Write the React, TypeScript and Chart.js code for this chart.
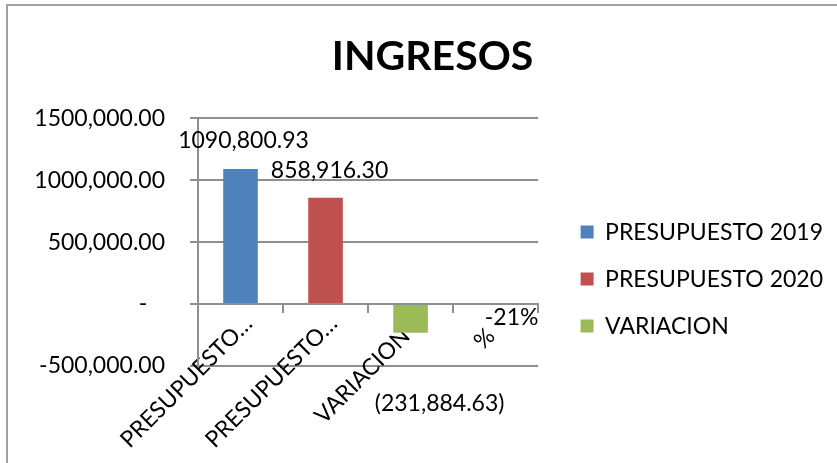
import React, { useEffect, useRef } from "react";
import { Chart, registerables } from "chart.js";

Chart.register(...registerables);

const categories = ["PRESUPUESTO 2019", "PRESUPUESTO 2020", "VARIACION", "%"];
const seriesNames = ["PRESUPUESTO 2019", "PRESUPUESTO 2020", "VARIACION", "%"];
const presupuesto2019 = [1090800.93, null, null, null];
const presupuesto2020 = [null, 858916.3, null, null];
const variacion = [null, null, -231884.63, null];
const porcentaje = [null, null, null, -0.21];
const yTicks = [-500000, 0, 500000, 1000000, 1500000];

const colors = ["#4F81BD", "#C0504D", "#9BBB59", "rgba(0,0,0,0)"];
const FONT = "Lato";
const labelOffsets = [
  [3, -28],
  [4, -27],
  [29, 71],
  [16, 14],
];
// trailing spaces that push short rotated category labels down-left (layout only)
const tickTrail = [0, 0, 3, 3];

function fmtNum(v: number): string {
  const a = Math.abs(v).toFixed(2);
  const [i, d] = a.split(".");
  const ii = i.length > 3 ? i.slice(0, -3) + "," + i.slice(-3) : i;
  return ii + "." + d;
}
function tickFmt(v: number): string {
  if (v === 0) return "-   ";
  return (v < 0 ? "-" : "") + fmtNum(v);
}
function labelFmt(di: number, v: number): string {
  if (di === 3) return Math.round(v * 100) + "%";
  return v < 0 ? "(" + fmtNum(v) + ")" : fmtNum(v);
}

const dataLabels = {
  id: "dataLabels",
  afterDatasetsDraw(chart: any) {
    const ctx = chart.ctx;
    ctx.save();
    ctx.font = `23px ${FONT}`;
    ctx.fillStyle = "#000";
    ctx.textAlign = "center";
    ctx.textBaseline = "middle";
    chart.data.datasets.forEach((ds: any, di: number) => {
      const meta = chart.getDatasetMeta(di);
      ds.data.forEach((v: any, i: number) => {
        if (v == null) return;
        const el = meta.data[i];
        const off = labelOffsets[di];
        ctx.fillText(labelFmt(di, v), el.x + off[0], el.y + off[1]);
      });
    });
    ctx.restore();
  },
};

export default function App() {
  const ref = useRef<HTMLCanvasElement>(null);
  useEffect(() => {
    let chart: any = null;
    let cancelled = false;
    const gridColor = "#8f8f8f";
    const allSeries = [presupuesto2019, presupuesto2020, variacion, porcentaje];
    const build = () => {
      if (cancelled || !ref.current) return;
      chart = new Chart(ref.current as HTMLCanvasElement, {
        type: "bar",
        data: {
          labels: categories,
          datasets: allSeries.map((d, i) => ({
            label: seriesNames[i],
            data: d,
            backgroundColor: colors[i],
            borderWidth: 0,
            barPercentage: 1,
            categoryPercentage: 0.407,
          })),
        },
        options: {
          responsive: false,
          animation: false,
          layout: { padding: { left: 32, right: 4, top: 10, bottom: 97 } },
          plugins: {
            title: {
              display: true,
              text: "INGRESOS",
              color: "#000",
              font: { family: FONT, size: 41, weight: "bold" },
              padding: { top: 22, bottom: 37 },
            },
            legend: {
              display: true,
              position: "right",
              fullSize: false,
              align: "center",
              maxWidth: 340,
              title: { display: true, text: " ", font: { size: 10 }, padding: 31 },
              labels: {
                filter: (item: any) => item.datasetIndex < 3,
                boxWidth: 13,
                boxHeight: 13,
                padding: 24,
                color: "#000",
                font: { family: FONT, size: 23 },
              },
            },
            tooltip: { enabled: false },
          },
          scales: {
            x: {
              stacked: true,
              position: { y: 0 } as any,
              grid: {
                display: true,
                drawOnChartArea: false,
                drawTicks: true,
                tickLength: 8,
                color: gridColor,
                lineWidth: 2,
                offset: true,
              },
              border: { display: true, color: gridColor, width: 2 },
              ticks: {
                autoSkip: false,
                minRotation: 45,
                maxRotation: 45,
                labelOffset: 8,
                padding: -2,
                color: "#000",
                font: { family: FONT, size: 23 },
                callback: (_v: any, i: number) => {
                  const s = categories[i];
                  const t = s.length > 12 ? s.slice(0, 11) + "…" : s;
                  return t + " ".repeat(tickTrail[i]);
                },
              },
            },
            y: {
              stacked: true,
              min: yTicks[0],
              max: yTicks[yTicks.length - 1],
              afterBuildTicks: (s: any) => {
                s.ticks = yTicks.map((v) => ({ value: v }));
              },
              afterFit: (s: any) => {
                s.width = 166;
              },
              grid: { color: gridColor, lineWidth: 2, tickLength: 8 },
              border: { display: true, color: gridColor, width: 2 },
              ticks: {
                padding: 25,
                color: "#000",
                font: { family: FONT, size: 23 },
                callback: (v: any) => tickFmt(Number(v)),
              },
            },
            y2: {
              position: "right",
              display: true,
              grid: { display: false },
              border: { display: false },
              ticks: { display: false },
              afterFit: (s: any) => {
                s.width = 18.5;
              },
            },
          },
        } as any,
        plugins: [dataLabels],
      });
    };
    const fonts = (document as any).fonts;
    if (fonts && fonts.load) {
      Promise.all([
        fonts.load(`23px ${FONT}`),
        fonts.load(`bold 41px ${FONT}`),
      ])
        .catch(() => null)
        .then(build);
    } else {
      build();
    }
    return () => {
      cancelled = true;
      if (chart) chart.destroy();
    };
  }, []);
  return (
    <div style={{ position: "absolute", left: 0, top: 0, width: 837, height: 463, background: "#fff", overflow: "hidden" }}>
      <div
        style={{
          position: "absolute",
          left: 6,
          top: 4,
          width: 900,
          height: 500,
          borderLeft: "2px solid #a0a0a0",
          borderTop: "2px solid #a0a0a0",
        }}
      />
      <canvas ref={ref} width={837} height={463} style={{ position: "absolute", left: 0, top: 0 }} />
    </div>
  );
}
